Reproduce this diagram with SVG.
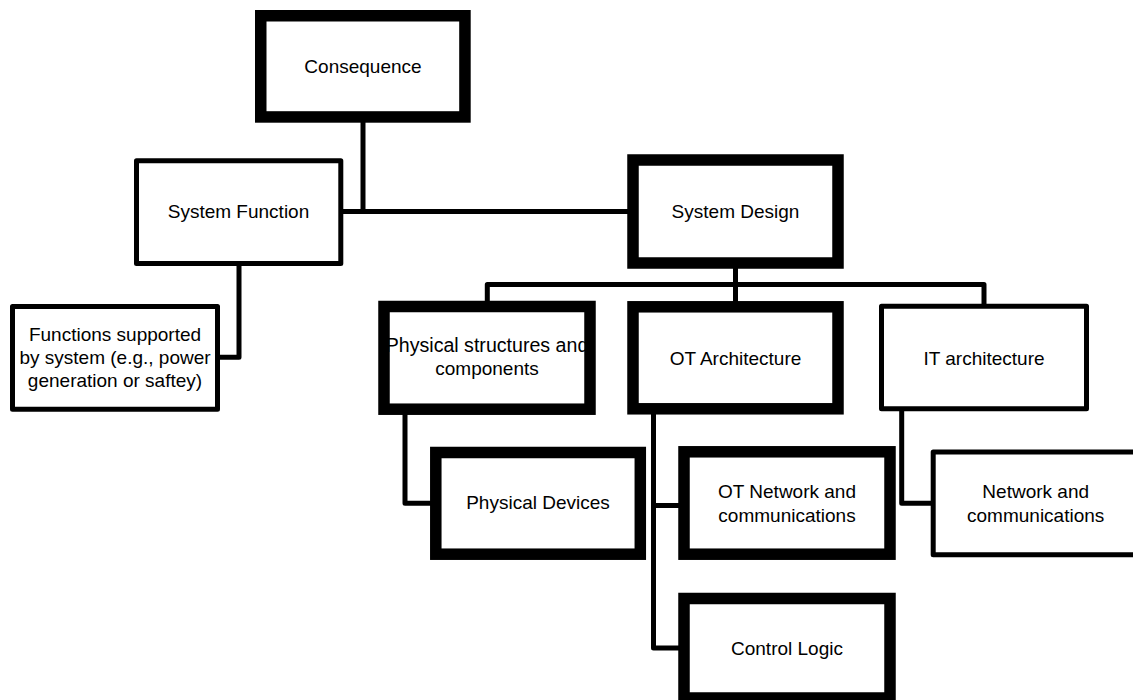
<svg xmlns="http://www.w3.org/2000/svg" width="1133" height="700" viewBox="0 0 1133 700">
  <style>
    .fill { fill: #ffffff; stroke: none; }
    .thick { fill: none; stroke: #000000; stroke-width: 11.5; }
    .thin { fill: none; stroke: #000000; stroke-width: 5; stroke-linejoin: round; }
    .lbl { font-family: "Liberation Sans", Arial, sans-serif; font-size: 19px; fill: #000000; text-anchor: middle; }
    .wire { fill: none; stroke: #000000; stroke-width: 5; stroke-linejoin: round; }
  </style>
  <rect x="0" y="0" width="1133" height="700" fill="#ffffff"/>

  <!-- tree connectors -->
  <g id="connectors">
    <path class="wire" d="M363,120 V211.5"/>
    <path class="wire" d="M340,211.5 H635"/>
    <path class="wire" d="M239,262 V357.3 H216"/>
    <path class="wire" d="M735.5,265 V305"/>
    <path class="wire" d="M487.3,305 V284.5 H984 V308"/>
    <path class="wire" d="M405,410 V503.3 H436"/>
    <path class="wire" d="M653.5,410 V648 H684"/>
    <path class="wire" d="M653.5,505.5 H684"/>
    <path class="wire" d="M901.7,408 V503.3 H934"/>
  </g>

  <g id="consequence">
    <rect class="fill" x="260.75" y="15.75" width="204.2" height="101.2"/>
    <text class="lbl" x="363" y="72.5">Consequence</text>
    <rect class="thick" x="260.75" y="15.75" width="204.2" height="101.2"/>
  </g>

  <g id="system-function">
    <rect class="fill" x="136.5" y="160.8" width="204.3" height="102.6"/>
    <text class="lbl" x="238.5" y="218.3">System Function</text>
    <rect class="thin" x="136.5" y="160.8" width="204.3" height="102.6"/>
  </g>

  <g id="functions-supported">
    <rect class="fill" x="12.5" y="306.5" width="205" height="102.7"/>
    <text class="lbl" x="115" y="341">Functions supported</text>
    <text class="lbl" x="115" y="364">by system (e.g., power</text>
    <text class="lbl" x="115" y="387">generation or saftey)</text>
    <rect class="thin" x="12.5" y="306.5" width="205" height="102.7"/>
  </g>

  <g id="system-design">
    <rect class="fill" x="633" y="160" width="205" height="103"/>
    <text class="lbl" x="735.5" y="218.3">System Design</text>
    <rect class="thick" x="633" y="160" width="205" height="103"/>
  </g>

  <!-- the first line runs slightly past the frame, which is drawn over it -->
  <g id="physical-structures">
    <rect class="fill" x="384" y="306.5" width="206" height="102.7"/>
    <text class="lbl" x="487" y="351.5" style="font-size:19.6px">Physical structures and</text>
    <text class="lbl" x="487" y="374.5">components</text>
    <rect class="thick" x="384" y="306.5" width="206" height="102.7"/>
  </g>

  <g id="ot-architecture">
    <rect class="fill" x="633" y="306.8" width="205" height="102"/>
    <text class="lbl" x="735.5" y="365">OT Architecture</text>
    <rect class="thick" x="633" y="306.8" width="205" height="102"/>
  </g>

  <g id="it-architecture">
    <rect class="fill" x="881.5" y="306.2" width="205" height="102.6"/>
    <text class="lbl" x="984" y="365">IT architecture</text>
    <rect class="thin" x="881.5" y="306.2" width="205" height="102.6"/>
  </g>

  <g id="physical-devices">
    <rect class="fill" x="435.8" y="452.5" width="204.5" height="101.7"/>
    <text class="lbl" x="538" y="509.3">Physical Devices</text>
    <rect class="thick" x="435.8" y="452.5" width="204.5" height="101.7"/>
  </g>

  <g id="ot-network">
    <rect class="fill" x="684" y="451.8" width="206" height="102.4"/>
    <text class="lbl" x="787" y="498.3">OT Network and</text>
    <text class="lbl" x="787" y="521.7">communications</text>
    <rect class="thick" x="684" y="451.8" width="206" height="102.4"/>
  </g>

  <g id="control-logic">
    <rect class="fill" x="684" y="598.5" width="206" height="99.5"/>
    <text class="lbl" x="787" y="655">Control Logic</text>
    <rect class="thick" x="684" y="598.5" width="206" height="99.5"/>
  </g>

  <g id="it-network">
    <rect class="fill" x="933.2" y="452" width="205" height="102.8"/>
    <text class="lbl" x="1035.7" y="498.3">Network and</text>
    <text class="lbl" x="1035.7" y="521.5">communications</text>
    <rect class="thin" x="933.2" y="452" width="205" height="102.8"/>
  </g>
</svg>
